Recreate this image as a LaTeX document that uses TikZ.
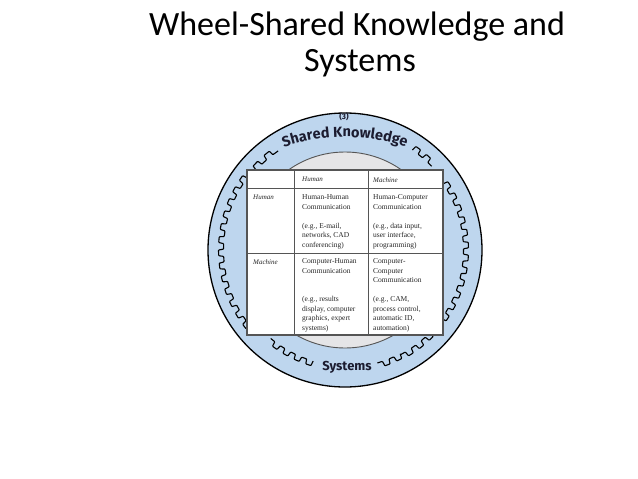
\documentclass[tikz,border=0pt]{standalone}
\usepackage{fontspec}
\setmainfont{Liberation Serif}
\newfontfamily\titlefont{Carlito}
\newfontfamily\ringfont{Fira Sans}
\usetikzlibrary{decorations.text}
\definecolor{ringblue}{RGB}{190,214,238}
\definecolor{innergray}{RGB}{229,229,231}
\definecolor{ink}{RGB}{28,28,48}
\definecolor{frame}{RGB}{85,85,85}
\newcommand\mysquig[4]{%
  \draw[squigline, shift={(345,250)}] ({#1}:{#3-2.5})
    \foreach \k in {0,...,#2} { -- ({#1+2*\k*#4+0.4}:{#3+2.5}) -- ({#1+(2*\k+1)*#4}:{#3+2.5})
      -- ({#1+(2*\k+1)*#4+0.4}:{#3-2.5}) -- ({#1+(2*\k+2)*#4}:{#3-2.5}) };}
\begin{document}
\begin{tikzpicture}[x=1pt,y=-1pt,
  squigline/.style={draw=black, line width=1.1pt, rounded corners=0.7pt},
  cell/.style={anchor=north west, inner sep=0pt, align=left, font=\fontsize{7.5}{9.5}\selectfont, text=black!85},
  lab/.style={anchor=north west, inner sep=0pt, font=\itshape\fontsize{7}{9}\selectfont, text=black!85},
  titletext/.style={anchor=base, inner sep=0pt, font=\titlefont\fontsize{34}{37}\selectfont},
  ringtext/.style={inner sep=0pt, text=ink, font=\ringfont\bfseries}]
\useasboundingbox (0,0) rectangle (638,479);
\fill[white] (0,0) rectangle (638,479);
\coordinate (O) at (345,250);
% title
\node[titletext] (t1) at (357,35) {Wheel-Shared Knowledge and};
\node[titletext] (t2) at (360,71) {Systems};
% wheel
\node[circle, draw=black, line width=1.3pt, fill=ringblue, minimum size=274pt, inner sep=0pt] (outer) at (O) {};
\node[circle, draw=frame, line width=0.9pt, fill=innergray, minimum size=196pt, inner sep=0pt] (inner) at (O) {};
% squiggles
\mysquig{141}{12}{124}{3}
\mysquig{-34}{15}{121}{3}
\mysquig{222}{1}{122}{3.5}
\mysquig{-56}{1}{123}{3}
\mysquig{106}{3}{118}{3}
\mysquig{62}{1}{120}{3}
% ring texts
\node[ringtext, font=\ringfont\bfseries\fontsize{8}{8}\selectfont] (three) at (344,117) {(3)};
\path[decorate, decoration={text along path, text align=center,
  text={|\ringfont\bfseries\fontsize{14.5}{14.5}\selectfont\color{ink}|Shared Knowledge}}]
  (O) ++(0,72) ++(-112:185) arc[start angle=-112, end angle=-68, radius=185];
\node[ringtext, font=\ringfont\bfseries\fontsize{13}{13}\selectfont] (sys) at (347,367) {Systems};
% table
\fill[white] (247,170) rectangle (443,335);
\draw[frame, line width=0.8pt] (294,170) -- (294,335) (368,170) -- (368,335)
  (247,188) -- (443,188) (247,253) -- (443,253);
\draw[frame, line width=1.8pt] (247,170) rectangle (443,335);
\node[lab] (hH) at (302,177) {Human};
\node[lab] (hM) at (373,177) {Machine};
\node[lab] (rH) at (253,195) {Human};
\node[lab] (rM) at (253,259) {Machine};
\node[cell] (c11) at (302,194.5) {Human-Human\\Communication\\[9.5pt](e.g., E-mail,\\networks, CAD\\conferencing)};
\node[cell] (c12) at (373,194.5) {Human-Computer\\Communication\\[9.5pt](e.g., data input,\\user interface,\\programming)};
\node[cell] (c21) at (302,258.5) {Computer-Human\\Communication\\[19pt](e.g., results\\display, computer\\graphics, expert\\systems)};
\node[cell] (c22) at (373,258.5) {Computer-\\Computer\\Communication\\[9.5pt](e.g., CAM,\\process control,\\automatic ID,\\automation)};
\end{tikzpicture}
\end{document}
